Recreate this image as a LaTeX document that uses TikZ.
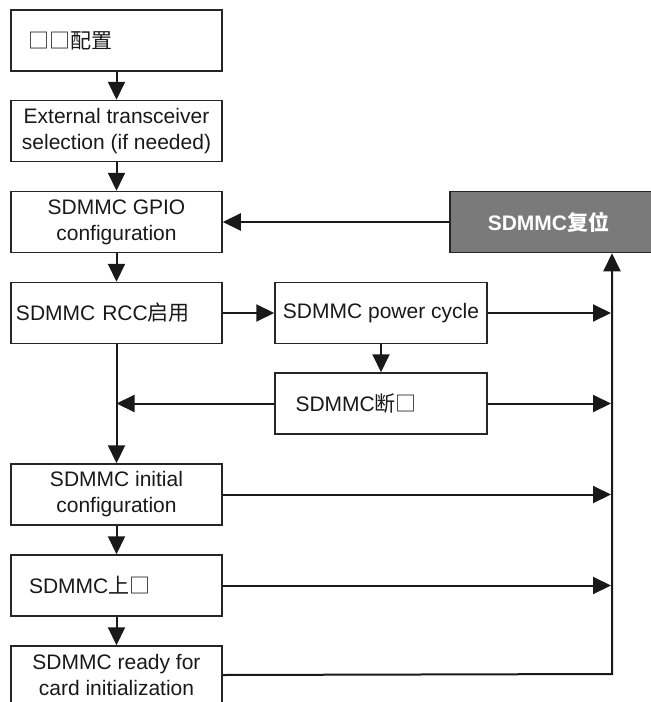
\documentclass[tikz,border=0pt]{standalone}
\usepackage{fontspec}
\setmainfont{Liberation Sans}
\newfontfamily\cjk{Noto Sans CJK SC}
\usetikzlibrary{arrows.meta}
\begin{document}
\begin{tikzpicture}[x=1pt,y=-1pt,
  box/.style={draw=black!85, line width=1.5pt, minimum width=211pt, minimum height=61pt,
    inner xsep=2pt, inner ysep=0pt, align=center, font=\fontsize{21}{26}\selectfont, text=black!90},
  leftbox/.style={box, align=left, text width=211pt-2*#1, inner xsep=#1},
  flow/.style={line width=2pt, draw=black!90, -{Triangle[length=18pt,width=17pt]}}
]
\useasboundingbox (0,0) rectangle (651,702);
\clip (0,0) rectangle (651,702);
% left column
\node[leftbox=17pt] (cfg) at (116.5,40.5) {{\cjk □□配置}};
\node[box] (ext) at (116.5,131) {External transceiver\\selection (if needed)};
\node[box] (gpio) at (116.5,222) {SDMMC GPIO\\configuration};
\node[leftbox=5pt] (rcc) at (116.5,313) {SDMMC RCC{\cjk 启用}};
\node[box] (init) at (116.5,494.5) {SDMMC initial\\configuration};
\node[leftbox=18pt] (pup) at (116.5,585.5) {SDMMC{\cjk 上□}};
\node[box, minimum height=58pt] (ready) at (116.5,675) {SDMMC ready for\\card initialization};
% middle column
\node[box, minimum width=212pt] (pc) at (381,313) {SDMMC power cycle};
\node[leftbox=20pt, minimum width=212pt] (disc) at (381,403.5) {SDMMC{\cjk 断□}};
% reset
\node[box, anchor=west, fill=black!52, text=white, font=\fontsize{21}{26}\selectfont\bfseries,
  align=left, text width=160pt, inner xsep=38pt] (rst) at (449,222) {SDMMC{\cjk 复位}};
% junctions
\coordinate (J) at (116.5,403.5);
\coordinate (R) at (612,674);
% connectors
\draw[flow] (cfg) -- (ext);
\draw[flow] (ext) -- (gpio);
\draw[flow] (gpio) -- (rcc);
\draw[flow] (rcc) -- (init);
\draw[flow] (init) -- (pup);
\draw[flow] (pup) -- (ready);
\draw[flow] (rcc) -- (pc);
\draw[flow] (pc) -- (disc);
\draw[flow] (disc.west) -- (J);
\draw[flow] (rst.west) -- (gpio.east);
\draw[flow] (pc.east) -- (611,313);
\draw[flow] (disc.east) -- (611,403.5);
\draw[flow] (init.east) -- (611,494.5);
\draw[flow] (pup.east) -- (611,585.5);
\draw[flow] (ready.east) -- (R) -- (R |- rst.south);
\end{tikzpicture}
\end{document}
